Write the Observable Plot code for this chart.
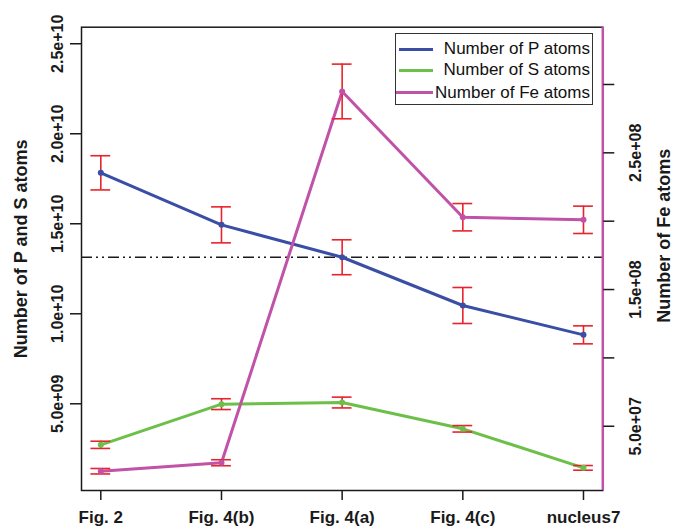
<!DOCTYPE html>
<html>
<head>
<meta charset="utf-8">
<script src="https://cdn.jsdelivr.net/npm/d3@7"></script>
<script src="https://cdn.jsdelivr.net/npm/@observablehq/plot@0.6"></script>
<style>
  body { margin: 0; background: #fff; }
  #chart { position: relative; width: 673px; height: 530px; font-family: "Liberation Sans", Arial, sans-serif; }
  #chart svg { position: absolute; left: 0; top: 0; }
  .legend { position: absolute; left: 395px; top: 33px; width: 198px; height: 72px; box-sizing: border-box;
            border: 1px solid #333; background: #fff; }
  .legend .row { position: absolute; left: 0; right: 0; height: 20px; }
  .legend .swatch { position: absolute; top: 8.5px; height: 3px; right: 160px; }
  .legend .lab { position: absolute; right: 2px; top: 0; line-height: 20px; font-size: 17px; color: #111; white-space: nowrap; }
</style>
</head>
<body>
<div id="chart"></div>
<script>
// ---- data ----
const categories = ["Fig. 2", "Fig. 4(b)", "Fig. 4(a)", "Fig. 4(c)", "nucleus7"];
const pAtoms  = [17.83e9, 14.94e9, 13.14e9, 10.46e9, 8.83e9];
const pErr    = [0.95e9, 1.0e9, 0.97e9, 1.0e9, 0.5e9];
const sAtoms  = [2.72e9, 4.98e9, 5.07e9, 3.61e9, 1.44e9];
const sErr    = [0.2e9, 0.3e9, 0.3e9, 0.18e9, 0.13e9];
const feAtoms = [1.71e7, 2.33e7, 2.949e8, 2.029e8, 2.010e8];
const feErr   = [0.2e7, 0.22e7, 0.2e8, 0.1e8, 0.1e8];
const leftTicks = [5e9, 1e10, 1.5e10, 2e10, 2.5e10];
const feTicks = [5e7, 1e8, 1.5e8, 2e8, 2.5e8, 3e8];
const feLabelTicks = [5e7, 1.5e8, 2.5e8];
const refLevel = [pAtoms[2]];           // dash-dot reference line at P of Fig. 4(a)
const leftTitle = "Number of P and S atoms";
const rightTitle = "Number of Fe atoms";
const seriesNames = ["Number of P atoms", "Number of S atoms", "Number of Fe atoms"];

// ---- styling / layout ----
const blue = "#3b4ea6", green = "#6cc04a", magenta = "#c052a8", red = "#e8232c", ink = "#1a1a1a";
const W = 673, H = 530;
const margins = {marginLeft: 81, marginRight: 70.7, marginTop: 26.7, marginBottom: 40};
const xDomain = [0.84, 5.16];
const leftDomain = [1.83e8, 2.592e10];
const feDomain = [3.0e6, 3.419e8];
const capHalf = 0.082;
const font = "Liberation Sans, Arial, sans-serif";

const rows = categories.map((c, k) => ({
  i: k + 1, c, p: pAtoms[k], pe: pErr[k], s: sAtoms[k], se: sErr[k], fe: feAtoms[k], fee: feErr[k]
}));
const xIdx = rows.map(d => d.i);
const fmt = v => v.toExponential(1).replace(/e([+-])(\d)$/, "e$10$2");

function errorMarks(vKey, eKey) {
  return [
    Plot.ruleX(rows, {x: "i", y1: d => d[vKey] - d[eKey], y2: d => d[vKey] + d[eKey], stroke: red, strokeWidth: 1.6}),
    Plot.ruleY(rows, {y: d => d[vKey] + d[eKey], x1: d => d.i - capHalf, x2: d => d.i + capHalf, stroke: red, strokeWidth: 1.6}),
    Plot.ruleY(rows, {y: d => d[vKey] - d[eKey], x1: d => d.i - capHalf, x2: d => d.i + capHalf, stroke: red, strokeWidth: 1.6})
  ];
}

// ---- base plot: P and S (left axis) ----
const base = Plot.plot({
  width: W, height: H, ...margins,
  style: {fontFamily: font, background: "white"},
  x: {type: "linear", domain: xDomain, label: null},
  y: {type: "linear", domain: leftDomain, label: null},
  marks: [
    Plot.ruleY(refLevel, {stroke: ink, strokeWidth: 1.3, strokeDasharray: "11,4,2,4,2,4"}),
    Plot.line(rows, {x: "i", y: "p", stroke: blue, strokeWidth: 3}),
    Plot.line(rows, {x: "i", y: "s", stroke: green, strokeWidth: 3}),
    ...errorMarks("p", "pe"),
    ...errorMarks("s", "se"),
    Plot.dot(rows, {x: "i", y: "p", r: 3, fill: blue}),
    Plot.dot(rows, {x: "i", y: "s", r: 3, fill: green}),
    Plot.frame({stroke: ink, strokeWidth: 1.5}),
    Plot.axisY({ticks: leftTicks, tickSize: 11, fill: "none", stroke: ink, strokeWidth: 1.5, label: null}),
    Plot.axisY({ticks: leftTicks, tickSize: 0, tickPadding: 24, tickRotate: -90, textAnchor: "middle",
                lineAnchor: "middle", tickFormat: fmt, fontSize: 16, fontWeight: "bold", fill: ink, label: null}),
    Plot.axisX({ticks: xIdx, tickSize: 10, tickPadding: 10, tickFormat: i => categories[i - 1],
                fontSize: 17, fontWeight: "bold", fill: ink, stroke: ink, strokeWidth: 1.5, label: null}),
    Plot.text([leftTitle], {frameAnchor: "left", rotate: -90, dx: -60.3, dy: -10, textAnchor: "middle",
                lineAnchor: "middle", fontSize: 18, fontWeight: "bold", fill: ink})
  ]
});

// ---- overlay plot: Fe (right axis) ----
const over = Plot.plot({
  width: W, height: H, ...margins,
  style: {fontFamily: font, background: "transparent"},
  x: {type: "linear", domain: xDomain, label: null, axis: null},
  y: {type: "linear", domain: feDomain, label: null},
  marks: [
    Plot.ruleX([xDomain[1]], {stroke: magenta, strokeWidth: 2.5}),
    Plot.line(rows, {x: "i", y: "fe", stroke: magenta, strokeWidth: 3}),
    ...errorMarks("fe", "fee"),
    Plot.dot(rows, {x: "i", y: "fe", r: 3, fill: magenta}),
    Plot.axisY({anchor: "right", ticks: feTicks, tickSize: 11, fill: "none", stroke: ink, strokeWidth: 1.5, label: null}),
    Plot.axisY({anchor: "right", ticks: feLabelTicks, tickSize: 0, tickPadding: 32.7, tickRotate: -90,
                textAnchor: "middle", lineAnchor: "middle", tickFormat: fmt, fontSize: 16, fontWeight: "bold",
                fill: ink, label: null}),
    Plot.text([rightTitle], {frameAnchor: "right", rotate: -90, dx: 61.7, dy: -23, textAnchor: "middle",
                lineAnchor: "middle", fontSize: 18, fontWeight: "bold", fill: ink})
  ]
});

const chart = document.getElementById("chart");
chart.appendChild(base);
chart.appendChild(over);

// ---- legend ----
const legend = document.createElement("div");
legend.className = "legend";
const legendColors = [blue, green, magenta];
const rowTops = [5.3, 26.3, 48.7];
const swatchLeft = [3, 3, 0];
seriesNames.forEach((name, k) => {
  const row = document.createElement("div");
  row.className = "row";
  row.style.top = rowTops[k] + "px";
  const sw = document.createElement("span");
  sw.className = "swatch";
  sw.style.background = legendColors[k];
  sw.style.left = swatchLeft[k] + "px";
  sw.style.width = (37 - swatchLeft[k]) + "px";
  sw.style.right = "auto";
  const lab = document.createElement("span");
  lab.className = "lab";
  lab.textContent = name;
  row.appendChild(sw);
  row.appendChild(lab);
  legend.appendChild(row);
});
chart.appendChild(legend);
</script>
</body>
</html>
